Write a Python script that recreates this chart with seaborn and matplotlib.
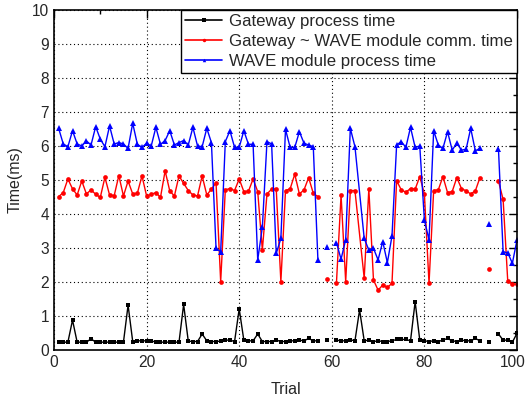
import numpy as np
import pandas as pd
import matplotlib
matplotlib.use("Agg")
import matplotlib.pyplot as plt
from matplotlib.lines import Line2D
from matplotlib.ticker import MultipleLocator
from matplotlib.transforms import ScaledTranslation
import seaborn as sns

# ---------------- data ----------------
trials = list(range(1, 101))
gateway = [0.23, 0.23, 0.23, 0.88, 0.23, 0.23, 0.23, 0.33, 0.23, 0.23,
           0.23, 0.23, 0.23, 0.23, 0.23, 1.32, 0.25, 0.27, 0.27, 0.27,
           0.27, 0.23, 0.23, 0.23, 0.23, 0.23, 0.23, 1.34, 0.26, 0.25,
           0.25, 0.47, 0.27, 0.25, 0.25, 0.26, 0.29, 0.29, 0.25, 1.21,
           0.29, 0.27, 0.27, 0.47, 0.25, 0.25, 0.25, 0.29, 0.25, 0.25,
           0.27, 0.27, 0.29, 0.27, 0.34, 0.27, 0.27, None, 0.29, None,
           0.29, 0.27, 0.27, 0.30, 0.27, 1.18, 0.27, 0.29, 0.25, 0.27,
           0.25, 0.25, 0.27, 0.31, 0.31, 0.31, 0.27, 1.42, 0.29, 0.27,
           0.25, 0.27, 0.25, 0.29, 0.34, 0.27, 0.25, 0.29, 0.27, 0.27,
           0.34, 0.27, None, 0.23, None, 0.47, 0.29, 0.29, 0.23, 0.49]

# the red and blue series have no sample at trial 66
rb_trials = [t for t in trials if t != 66]
comm = [4.51, 4.63, 5.03, 4.74, 4.56, 4.97, 4.59, 4.71, 4.58, 4.49,
        5.08, 4.56, 4.54, 5.13, 4.53, 4.97, 4.59, 4.61, 5.12, 4.53,
        4.58, 4.63, 4.49, 5.27, 4.68, 4.53, 5.12, 4.90, 4.69, 4.56,
        4.53, 5.12, 4.56, 4.73, 4.92, 2.01, 4.71, 4.75, 4.69, 5.03,
        4.66, 4.67, 5.03, 4.66, 2.94, 4.59, 4.73, 4.73, 2.01, 4.69,
        4.74, 5.17, 4.59, 4.71, 5.07, 4.61, 4.51, None, 2.08, None,
        1.96, 4.56, 2.01, 4.69, 4.69,
        2.11, 4.74, 2.06, 1.76,
        1.91, 1.84, 1.96, 4.98, 4.71, 4.64, 4.75, 4.73, 5.10, 4.59,
        1.96, 4.69, 4.71, 5.10, 4.63, 4.66, 5.07, 4.75, 4.68, 4.59,
        4.68, 5.07, None, 2.37, None, 4.97, 4.43, 2.03, 1.94, 1.94]
wave = [6.52, 6.06, 5.98, 6.45, 6.06, 6.00, 6.15, 6.03, 6.57, 6.20,
        5.98, 6.59, 6.06, 6.10, 6.06, 5.93, 6.67, 6.05, 5.96, 6.08,
        6.00, 6.55, 6.05, 6.16, 6.45, 6.03, 6.10, 6.16, 6.03, 6.55,
        6.00, 5.98, 6.52, 6.10, 2.99, 2.89, 6.13, 6.45, 5.96, 5.96,
        6.45, 6.05, 6.05, 2.65, 3.61, 6.13, 6.06, 2.84, 3.28, 6.49,
        5.96, 5.96, 6.42, 6.08, 6.03, 5.98, 2.65, None, 3.02, None,
        3.16, 2.67, 3.25, 6.52, 5.98,
        3.28, 2.94, 2.99, 2.65,
        3.19, 2.57, 3.35, 6.03, 6.13, 5.96, 6.55, 5.96, 6.00, 3.82,
        3.24, 6.45, 6.03, 5.93, 6.42, 5.88, 6.08, 5.88, 5.90, 6.52,
        5.86, 5.93, None, 3.70, None, 5.90, 2.89, 2.86, 2.55, 3.24]

labels = ["Gateway process time",
          "Gateway ~ WAVE module comm. time",
          "WAVE module process time"]
x_ticks = [0, 20, 40, 60, 80, 100]
y_ticks = list(range(0, 11))

# ---------------- style ----------------
sns.set_style("white")
plt.rcParams["font.family"] = ["Liberation Sans", "DejaVu Sans"]
plt.rcParams["font.size"] = 11.5


def to_frame(xs, ys, name):
    rows, seg = [], 0
    for x, y in zip(xs, ys):
        if y is None:
            seg += 1
            continue
        rows.append((x, y, name, seg))
    return pd.DataFrame(rows, columns=["trial", "value", "series", "seg"])


frames = [to_frame(trials, gateway, labels[0]),
          to_frame(rb_trials, comm, labels[1]),
          to_frame(rb_trials, wave, labels[2])]

colors = ["black", "red", "blue"]
markers = ["s", "o", "^"]
msizes = [3.0, 3.4, 4.2]

fig = plt.figure(figsize=(5.27, 4.01), dpi=100)
ax = fig.add_axes([54 / 527, 1 - 350 / 401, (517 - 54) / 527, (350 - 10) / 401])

for df, c, m, ms in zip(frames, colors, markers, msizes):
    sns.lineplot(data=df, x="trial", y="value", units="seg", estimator=None,
                 sort=False, color=c, marker=m, markersize=ms,
                 markeredgewidth=0, linewidth=1.0, legend=False, ax=ax)

ax.set_xlim(0, 100)
ax.set_ylim(0, 10)
ax.set_xticks(x_ticks)
ax.set_yticks(y_ticks)
ax.xaxis.set_minor_locator(MultipleLocator(10))
ax.yaxis.set_minor_locator(MultipleLocator(0.5))
ax.tick_params(which="both", direction="in", top=True, right=True,
               labelsize=11.2, width=1.0, color="black")
ax.tick_params(which="major", length=5.5)
ax.tick_params(which="minor", length=3)
ax.grid(True, which="major", color="black", linestyle=(0, (1, 2.5)), linewidth=0.8)
for s in ax.spines.values():
    s.set_visible(True)
    s.set_color("black")
    s.set_linewidth(1.2)

# keep the last x tick label inside the canvas, as in the reference
fig.canvas.draw()
last = ax.get_xticklabels()[-1]
last.set_transform(last.get_transform() + ScaledTranslation(-4 / 100, 0, fig.dpi_scale_trans))

ax.set_xlabel("Trial", fontsize=11.5, labelpad=9)
ax.set_ylabel("Time(ms)", fontsize=11.5, labelpad=7)

handles = [Line2D([], [], color=c, marker=m, markersize=2.5, markeredgewidth=0,
                  linewidth=1.2) for c, m in zip(colors, markers)]
leg = ax.legend(handles, labels, loc="upper right", bbox_to_anchor=(1.0, 1.0),
                borderaxespad=0, fontsize=12.1, frameon=True, fancybox=False,
                handlelength=2.2, handletextpad=0.4, labelspacing=0.28,
                borderpad=0.25)
leg.get_frame().set_edgecolor("black")
leg.get_frame().set_linewidth(1.0)
leg.get_frame().set_alpha(1)

fig.savefig("out.png", dpi=100)
